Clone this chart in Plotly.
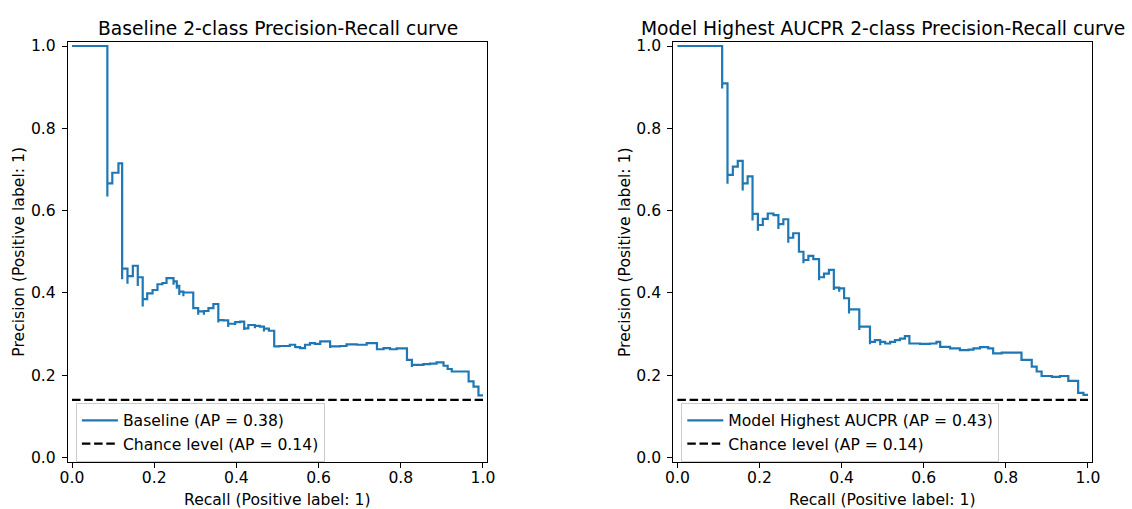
import plotly.graph_objects as go

W, H = 1132, 509

# ---------------- data ----------------
# step curves: each point = (recall at right end of a flat step, precision of that step);
# repeated recall values are the short downward spikes of the curve
base_recall = [0.0, 0.086, 0.086, 0.098, 0.113, 0.122, 0.122, 0.135, 0.135, 0.148, 0.160,
               0.160, 0.172, 0.172, 0.183, 0.196, 0.208, 0.220, 0.230, 0.247, 0.247, 0.255,
               0.255, 0.261, 0.261, 0.271, 0.271, 0.286, 0.295, 0.307, 0.307, 0.321, 0.321,
               0.332, 0.344, 0.356, 0.356, 0.368, 0.380, 0.380, 0.397, 0.397, 0.409, 0.419,
               0.419, 0.429, 0.445, 0.445, 0.457, 0.467, 0.467, 0.479, 0.492, 0.492, 0.505,
               0.518, 0.530, 0.543, 0.543, 0.555, 0.567, 0.579, 0.591, 0.604, 0.628, 0.628,
               0.652, 0.668, 0.693, 0.717, 0.742, 0.758, 0.774, 0.790, 0.815, 0.827, 0.827,
               0.855, 0.871, 0.887, 0.904, 0.914, 0.924, 0.965, 0.977, 0.989, 1.0]
base_precision = [1.0, 1.0, 0.634, 0.666, 0.692, 0.715, 0.433, 0.459, 0.422, 0.441, 0.466,
                  0.417, 0.438, 0.367, 0.385, 0.399, 0.407, 0.421, 0.424, 0.436, 0.420, 0.428,
                  0.410, 0.417, 0.395, 0.403, 0.392, 0.401, 0.401, 0.363, 0.347, 0.355, 0.347,
                  0.356, 0.363, 0.373, 0.328, 0.334, 0.333, 0.317, 0.325, 0.322, 0.329, 0.330,
                  0.310, 0.314, 0.322, 0.314, 0.320, 0.318, 0.306, 0.313, 0.308, 0.268, 0.270,
                  0.271, 0.271, 0.274, 0.266, 0.268, 0.266, 0.274, 0.278, 0.276, 0.282, 0.266,
                  0.270, 0.271, 0.275, 0.274, 0.278, 0.263, 0.266, 0.263, 0.265, 0.237, 0.220,
                  0.225, 0.227, 0.228, 0.231, 0.223, 0.215, 0.209, 0.185, 0.172, 0.151]

model_recall = [0.0, 0.109, 0.109, 0.122, 0.122, 0.135, 0.147, 0.159, 0.159, 0.171, 0.183,
                0.183, 0.196, 0.196, 0.208, 0.220, 0.234, 0.246, 0.246, 0.258, 0.270, 0.270,
                0.282, 0.296, 0.307, 0.307, 0.319, 0.331, 0.345, 0.345, 0.357, 0.369, 0.381,
                0.381, 0.394, 0.394, 0.406, 0.418, 0.418, 0.443, 0.443, 0.469, 0.469, 0.481,
                0.494, 0.494, 0.506, 0.518, 0.530, 0.542, 0.554, 0.565, 0.591, 0.615, 0.631,
                0.640, 0.664, 0.688, 0.709, 0.721, 0.737, 0.757, 0.769, 0.790, 0.838, 0.863,
                0.875, 0.887, 0.912, 0.932, 0.952, 0.976, 0.989, 1.0]
model_precision = [1.0, 1.0, 0.897, 0.909, 0.665, 0.687, 0.707, 0.721, 0.649, 0.666, 0.683,
                   0.576, 0.592, 0.551, 0.565, 0.580, 0.593, 0.589, 0.555, 0.567, 0.579, 0.522,
                   0.534, 0.545, 0.500, 0.472, 0.480, 0.490, 0.482, 0.431, 0.438, 0.447, 0.456,
                   0.407, 0.413, 0.403, 0.411, 0.387, 0.350, 0.360, 0.310, 0.318, 0.275, 0.281,
                   0.285, 0.273, 0.281, 0.277, 0.281, 0.285, 0.289, 0.295, 0.277, 0.276, 0.277,
                   0.281, 0.269, 0.265, 0.261, 0.262, 0.265, 0.268, 0.265, 0.253, 0.255, 0.237,
                   0.221, 0.209, 0.198, 0.196, 0.198, 0.186, 0.157, 0.152]

chance_recall = [0.0, 1.0]
chance_precision = [0.14, 0.14]

baseline_name = "Baseline (AP = 0.38)"
model_name = "Model Highest AUCPR (AP = 0.43)"
chance_name = "Chance level (AP = 0.14)"
titles = ["Baseline 2-class Precision-Recall curve",
          "Model Highest AUCPR 2-class Precision-Recall curve"]
x_label = "Recall (Positive label: 1)"
y_label = "Precision (Positive label: 1)"
tick_vals = [0.0, 0.2, 0.4, 0.6, 0.8, 1.0]
tick_text = ["0.0", "0.2", "0.4", "0.6", "0.8", "1.0"]

# ---------------- style ----------------
FONT = "DejaVu Sans"
FS = 15.6
BLUE = "#1f77b4"

# axes boxes in pixels (left, right) and (top, bottom)
left_box = (67.9, 487.1)
right_box = (673.3, 1092.1)
top_px, bottom_px = 41.9, 461.6

def px_x(v):
    return v / W

def px_y(v):
    return 1 - v / H

fig = go.Figure()

fig.add_trace(go.Scatter(x=base_recall, y=base_precision, mode="lines", line_shape="vh",
                         line=dict(color=BLUE, width=2.2), name=baseline_name,
                         xaxis="x", yaxis="y", legend="legend"))
fig.add_trace(go.Scatter(x=chance_recall, y=chance_precision, mode="lines",
                         line=dict(color="black", width=2.2, dash="8.5px,3.7px"),
                         name=chance_name, xaxis="x", yaxis="y", legend="legend"))
fig.add_trace(go.Scatter(x=model_recall, y=model_precision, mode="lines", line_shape="vh",
                         line=dict(color=BLUE, width=2.2), name=model_name,
                         xaxis="x2", yaxis="y2", legend="legend2"))
fig.add_trace(go.Scatter(x=chance_recall, y=chance_precision, mode="lines",
                         line=dict(color="black", width=2.2, dash="8.5px,3.7px"),
                         name=chance_name, xaxis="x2", yaxis="y2", legend="legend2"))

axis_common = dict(range=[-0.01, 1.01], showline=True, mirror=True, linecolor="black",
                   linewidth=1.1, ticks="outside", ticklen=5, tickwidth=1.1, tickcolor="black",
                   tickvals=tick_vals, ticktext=tick_text, showgrid=False, zeroline=False,
                   tickfont=dict(family=FONT, size=FS, color="black"), fixedrange=True,
                   automargin=False)

ydom = [px_y(bottom_px), px_y(top_px)]
legend_common = dict(xanchor="left", yanchor="top", bgcolor="rgba(255,255,255,0.8)",
                     bordercolor="#cccccc", borderwidth=1, itemwidth=36,
                     font=dict(family=FONT, size=FS, color="black"), tracegroupgap=0)
fig.update_layout(
    width=W, height=H, margin=dict(l=0, r=0, t=0, b=0, autoexpand=False),
    paper_bgcolor="white", plot_bgcolor="white",
    font=dict(family=FONT, size=FS, color="black"),
    xaxis=dict(domain=[px_x(left_box[0]), px_x(left_box[1])], anchor="y",
               ticklabelstandoff=-3, **axis_common),
    yaxis=dict(domain=ydom, anchor="x", ticklabelstandoff=3, **axis_common),
    xaxis2=dict(domain=[px_x(right_box[0]), px_x(right_box[1])], anchor="y2",
                ticklabelstandoff=-3, **axis_common),
    yaxis2=dict(domain=ydom, anchor="x2", ticklabelstandoff=3, **axis_common),
    legend=dict(x=px_x(left_box[0] + 8), y=px_y(402.7), **legend_common),
    legend2=dict(x=px_x(right_box[0] + 8), y=px_y(402.7), **legend_common),
    showlegend=True,
)

annotations = []
for box, title in zip([left_box, right_box], titles):
    cx = (box[0] + box[1]) / 2
    annotations.append(dict(text=title, x=px_x(cx), y=px_y(28.5), xref="paper", yref="paper",
                            xanchor="center", yanchor="middle", showarrow=False,
                            font=dict(family=FONT, size=18.7, color="black")))
    annotations.append(dict(text=x_label, x=px_x(cx), y=px_y(499.5), xref="paper", yref="paper",
                            xanchor="center", yanchor="middle", showarrow=False,
                            font=dict(family=FONT, size=FS, color="black")))
    annotations.append(dict(text=y_label, x=px_x(box[0] - 49), y=px_y((top_px + bottom_px) / 2),
                            xref="paper", yref="paper", xanchor="center", yanchor="middle",
                            textangle=-90, showarrow=False,
                            font=dict(family=FONT, size=FS, color="black")))
fig.update_layout(annotations=annotations)

fig.write_html("out.html")
